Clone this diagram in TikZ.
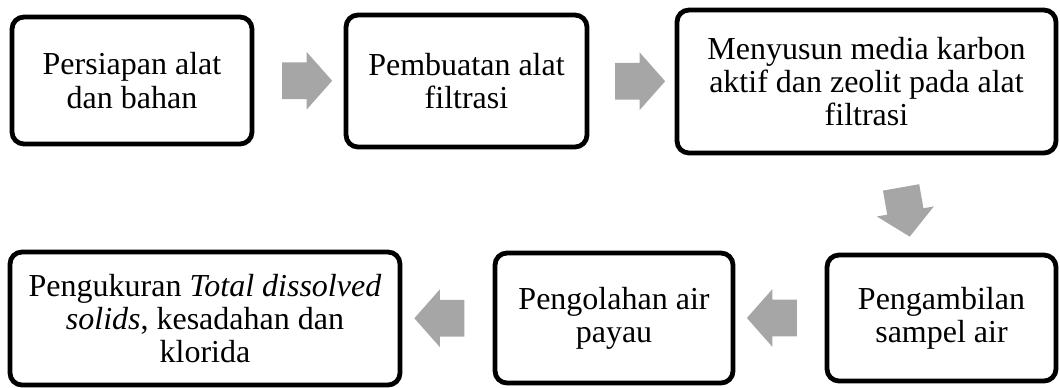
\documentclass[tikz,border=0pt]{standalone}
\usepackage{fontspec}
\setmainfont{Liberation Serif}
\usetikzlibrary{shapes.arrows,calc}

\definecolor{arrowgray}{HTML}{A6A6A6}

\tikzset{
  procbox/.style={draw=black, line width=2.4pt, rounded corners=6pt, align=center,
    inner sep=0pt, font=\fontsize{16}{16.6}\selectfont},
  blockarr/.style={single arrow, fill=arrowgray, draw=none, inner xsep=0pt, inner ysep=9pt,
    single arrow head extend=5.25pt, single arrow tip angle=97, minimum height=25pt}
}

\begin{document}
\begin{tikzpicture}[x=0.5pt,y=-0.5pt]
  \useasboundingbox (0,0) rectangle (1060,387);
  % top row
  \node[procbox, minimum width=120pt, minimum height=63.5pt] (b1) at (132,80.5) {Persiapan alat\\dan bahan};
  \node[procbox, minimum width=120.5pt, minimum height=66pt] (b2) at (466.5,81) {Pembuatan alat\\filtrasi};
  \node[procbox, minimum width=189.5pt, minimum height=71.5pt] (b3) at (866.5,81.5) {Menyusun media karbon\\aktif dan zeolit pada alat\\filtrasi};
  % bottom row
  \node[procbox, minimum width=114.5pt, minimum height=63pt] (b4) at (941.5,318) {Pengambilan\\sampel air};
  \node[procbox, minimum width=119pt, minimum height=65pt] (b5) at (614,318) {Pengolahan air\\payau};
  \node[procbox, minimum width=195pt, minimum height=66.5pt] (b6) at (205,318.5) {Pengukuran \textit{Total dissolved}\\\textit{solids}, kesadahan dan\\klorida};

  % arrows
  \node[blockarr] (a1) at ($(b1.east)!0.5!(b2.west)$) {};
  \node[blockarr] (a2) at ($(b2.east)!0.5!(b3.west)$) {};
  \node[blockarr, rotate=-80] (a3) at ($(b3.south)!0.5!(b4.north)$) {};
  \node[blockarr, rotate=180] (a4) at ($(b4.west)!0.5!(b5.east)$) {};
  \node[blockarr, rotate=180] (a5) at ($(b5.west)!0.5!(b6.east)$) {};
\end{tikzpicture}
\end{document}
